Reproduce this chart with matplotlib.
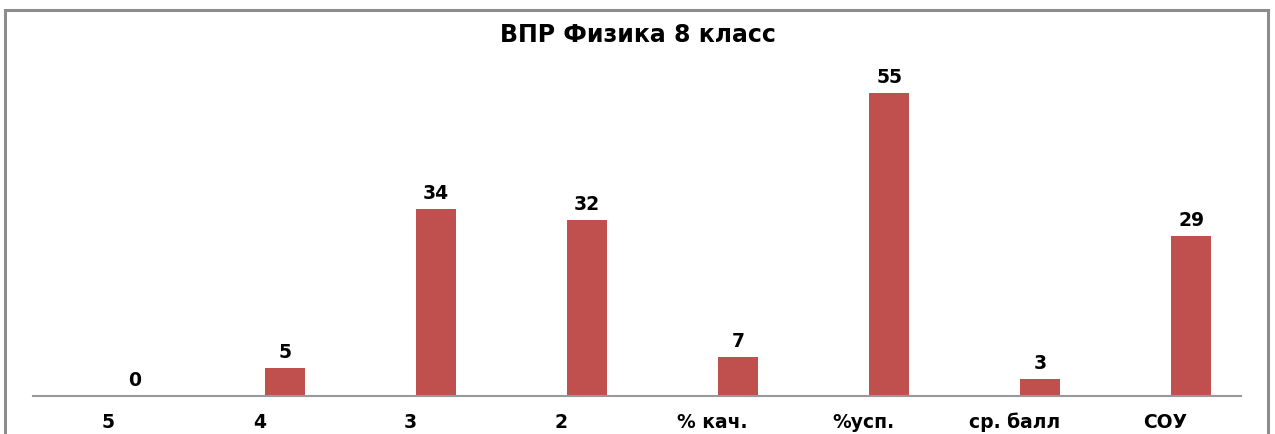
import matplotlib.pyplot as plt
from matplotlib.patches import Rectangle

categories = ['5', '4', '3', '2', '% кач.', '%усп.', 'ср. балл', 'СОУ']
values = [0, 5, 34, 32, 7, 55, 3, 29]

bar_color = '#C0504D'
W, H = 1275, 434

fig = plt.figure(figsize=(W / 100, H / 100), dpi=100)
fig.patch.set_facecolor('white')

# outer chart frame (bottom edge falls outside the picture)
fig.patches.append(Rectangle((5 / W, -0.05), 1263 / W, 1.05 - 10 / H,
                             transform=fig.transFigure, fill=False,
                             edgecolor='#8c8c8c', linewidth=2.2))

# plot area: x 33..1241 px, axis line at y=396 px, top at 60 px
ax = fig.add_axes([33 / W, (H - 396) / H, 1208 / W, 336 / H])
x = list(range(len(categories)))
xb = [i + 0.17 for i in x]
ax.bar(xb, values, width=0.265, color=bar_color)
for xi, v in zip(xb, values):
    ax.text(xi, v + 1.1, str(v), ha='center', va='bottom',
            fontsize=13.5, fontweight='bold', color='black')

ax.set_xlim(-0.5, len(categories) - 0.5)
ax.set_ylim(0, 61)
ax.set_xticks(x)
ax.set_xticklabels(categories, fontsize=13.5, fontweight='bold')
ax.tick_params(axis='x', length=0, pad=12)
ax.set_yticks([])
for s in ['top', 'right', 'left']:
    ax.spines[s].set_visible(False)
ax.spines['bottom'].set_color('#999999')
ax.spines['bottom'].set_linewidth(1.5)

fig.text(638 / W, 1 - 35 / H, 'ВПР Физика 8 класс', ha='center', va='center',
         fontsize=17, fontweight='bold')

fig.savefig('out.png', dpi=100)
